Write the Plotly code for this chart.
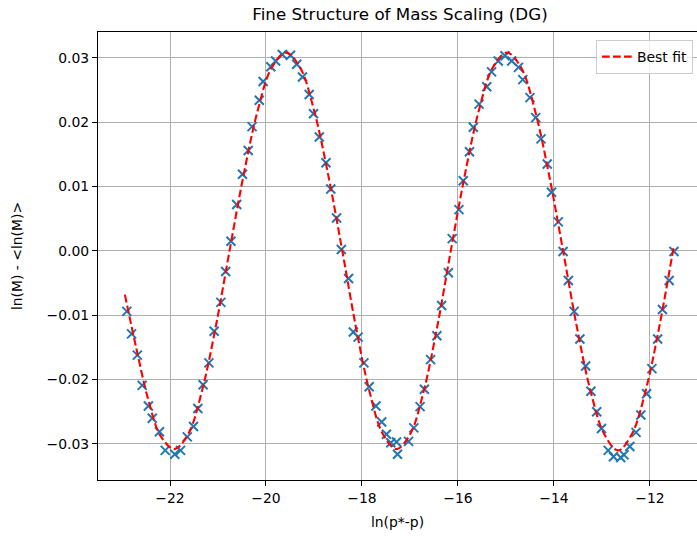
import plotly.graph_objects as go

# Measured data points (ln(p*-p), ln(M) - <ln(M)>)
x_data = [-22.90, -22.80, -22.68, -22.58, -22.45, -22.37, -22.22, -22.10, -21.90, -21.78,
          -21.64, -21.51, -21.42, -21.31, -21.19, -21.08, -20.94, -20.84, -20.73, -20.61,
          -20.49, -20.37, -20.29, -20.14, -20.06, -19.90, -19.80, -19.66, -19.49, -19.36,
          -19.24, -19.10, -19.01, -18.89, -18.75, -18.65, -18.53, -18.43, -18.28, -18.18,
          -18.08, -17.96, -17.85, -17.71, -17.59, -17.49, -17.40, -17.28, -17.26, -17.03,
          -16.92, -16.79, -16.70, -16.57, -16.44, -16.34, -16.20, -16.12, -15.98, -15.89,
          -15.76, -15.68, -15.56, -15.40, -15.30, -15.16, -15.02, -14.88, -14.74, -14.65,
          -14.50, -14.38, -14.27, -14.14, -14.05, -13.91, -13.81, -13.70, -13.58, -13.46,
          -13.34, -13.23, -13.11, -13.01, -12.87, -12.76, -12.61, -12.54, -12.42, -12.29,
          -12.19, -12.07, -11.96, -11.84, -11.74, -11.60, -11.50]
y_data = [-0.0094, -0.0129, -0.0162, -0.0209, -0.0241, -0.0260, -0.0281, -0.0310, -0.0316, -0.0310,
          -0.0289, -0.0273, -0.0245, -0.0208, -0.0174, -0.0125, -0.0080, -0.0032, 0.0015, 0.0072,
          0.0119, 0.0156, 0.0193, 0.0234, 0.0263, 0.0286, 0.0295, 0.0305, 0.0304, 0.0290,
          0.0270, 0.0243, 0.0213, 0.0177, 0.0137, 0.0096, 0.0051, 0.0002, -0.0043, -0.0126,
          -0.0134, -0.0174, -0.0211, -0.0241, -0.0266, -0.0285, -0.0298, -0.0297, -0.0316, -0.0296,
          -0.0275, -0.0242, -0.0215, -0.0169, -0.0132, -0.0085, -0.0034, 0.0019, 0.0064, 0.0109,
          0.0154, 0.0192, 0.0228, 0.0255, 0.0278, 0.0295, 0.0303, 0.0295, 0.0285, 0.0266,
          0.0238, 0.0207, 0.0174, 0.0135, 0.0091, 0.0045, -0.0001, -0.0046, -0.0094, -0.0137,
          -0.0179, -0.0218, -0.0250, -0.0276, -0.0310, -0.0320, -0.0321, -0.0317, -0.0304, -0.0282,
          -0.0255, -0.0222, -0.0183, -0.0137, -0.0091, -0.0046, -0.0001]

# Best-fit curve
fit_x = [-22.94, -22.70, -22.45, -22.20, -21.91,
         -21.6225, -21.335, -21.0475, -20.76,
         -20.466, -20.173, -19.879, -19.585,
         -19.291, -18.998, -18.704, -18.41,
         -18.1275, -17.845, -17.5625, -17.28,
         -16.9975, -16.715, -16.4325, -16.15,
         -15.8575, -15.565, -15.2725, -14.98,
         -14.6875, -14.395, -14.1025, -13.81,
         -13.524, -13.2375, -12.951, -12.665,
         -12.379, -12.0925, -11.806, -11.52, -11.50]
fit_y = [-0.0068, -0.0152, -0.0232, -0.0287, -0.0308,
         -0.0285, -0.0218, -0.0118, 0.0000,
         0.0118, 0.0218, 0.0285, 0.0308,
         0.0285, 0.0218, 0.0118, 0.0000,
         -0.0118, -0.0218, -0.0285, -0.0308,
         -0.0285, -0.0218, -0.0118, 0.0000,
         0.0118, 0.0218, 0.0285, 0.0308,
         0.0285, 0.0218, 0.0118, 0.0000,
         -0.0118, -0.0218, -0.0285, -0.0310,
         -0.0285, -0.0218, -0.0118, 0.0000, 0.0008]

x_ticks = [-22, -20, -18, -16, -14, -12]
y_ticks = [-0.03, -0.02, -0.01, 0.00, 0.01, 0.02, 0.03]

FONT = "DejaVu Sans"

fig = go.Figure()
fig.add_trace(go.Scatter(
    x=x_data, y=y_data, mode="markers", showlegend=False,
    marker=dict(symbol="x-thin", size=9, color="#1f77b4",
                line=dict(width=2, color="#1f77b4")),
))
fig.add_trace(go.Scatter(
    x=fit_x, y=fit_y, mode="lines", name="Best fit",
    line=dict(color="#ff0000", width=2.1, dash="7.7px,3.3px", shape="spline", smoothing=1.0),
))

axis_common = dict(
    showgrid=True, gridcolor="#b0b0b0", gridwidth=1.1,
    zeroline=False, showline=True, linecolor="black", linewidth=1.1,
    ticks="outside", ticklen=5, tickwidth=1.1, tickcolor="black",
    tickfont=dict(family=FONT, size=13.9, color="black"),
)

fig.update_layout(
    width=697, height=539, autosize=False,
    margin=dict(l=98, r=0, t=32, b=59),
    paper_bgcolor="white", plot_bgcolor="white",
    font=dict(family=FONT, color="black"),
    title=dict(text="Fine Structure of Mass Scaling (DG)",
               font=dict(family=FONT, size=16.7, color="black"),
               x=(400 / 697), xanchor="center", xref="container",
               y=1 - 14 / 539, yanchor="middle", yref="container"),
    xaxis=dict(range=[-23.5, -11.02], tickvals=x_ticks, mirror=True,
               title=dict(text="ln(p*-p)", font=dict(family=FONT, size=13.9, color="black"), standoff=12),
               **axis_common),
    yaxis=dict(range=[-0.0356, 0.0340], tickvals=y_ticks, tickformat=".2f",
               title=dict(text="ln(M) - &lt;ln(M)&gt;", font=dict(family=FONT, size=13.9, color="black"), standoff=20),
               **axis_common),
    legend=dict(x=0.9933, xanchor="right", y=0.982, yanchor="top",
                bgcolor="rgba(255,255,255,0.8)", bordercolor="#cccccc", borderwidth=1,
                font=dict(family=FONT, size=13.9, color="black")),
)

fig.write_html("out.html", config={"displayModeBar": False},
               post_script="document.body.style.margin='0';document.body.style.padding='0';")
